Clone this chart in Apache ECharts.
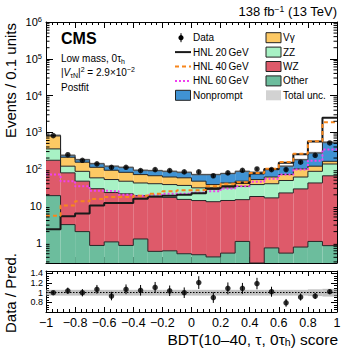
<!DOCTYPE html>
<html><head><meta charset="utf-8">
<script src="https://cdn.jsdelivr.net/npm/echarts@6/dist/echarts.min.js"></script>
<style>html,body{margin:0;padding:0;background:#fff}#c{width:349px;height:352px}</style>
</head><body><div id="c"></div>
<script>
// ---------- data ----------
const binEdges = [-1,-0.9,-0.8,-0.7,-0.6,-0.5,-0.4,-0.3,-0.2,-0.1,0,0.1,0.2,0.3,0.4,0.5,0.6,0.7,0.8,0.9,1];
const other     = [19, 3.1, 2.0, 0.84, 1.05, 0.84, 1.26, 0.58, 0.6, 0.5, 0.47, 0.41, 0.52, 1.08, 0.2, 0.72, 0.52, 0.76, 1.08, 0.83];
const wz        = [155, 76, 45, 28.5, 22, 20.5, 17.7, 17, 16.4, 14.5, 13.5, 12.6, 13.5, 13.7, 17.8, 15.8, 22, 28.2, 41, 65];
const zz        = [181, 41, 40, 28.5, 29, 25.5, 23, 22.5, 21, 21, 17, 15, 17, 19.2, 20, 23.5, 26.5, 32, 45, 72];
const vgamma    = [445, 90, 67, 54, 41, 35, 29, 26, 23, 22, 16, 10, 11, 13, 14, 21, 22, 40, 33, 25];
const nonprompt = [30, 28, 27, 29, 27, 30, 22, 25, 26, 24, 24, 33, 34, 40, 30, 36, 49, 80, 156, 374];
const dataObs   = [815, 247, 174, 139, 112, 112, 91, 97, 91, 84, 84, 66, 79, 93, 101, 97, 97, 154, 237, 515];
const hnl20     = [2.3, 5.2, 6.2, 10.2, 12, 12, 15.7, 18, 19, 20, 22, 30, 34, 42, 76, 100, 150, 255, 560, 2500];
const hnl40     = [5.4, 10.2, 13.3, 15.5, 17.5, 17.5, 19, 21.5, 25, 26.5, 27, 34, 40, 44, 78, 102, 155, 260, 570, 1870];
const hnl60     = [71, 47, 34, 26, 25, 20, 19, 20, 21.5, 21.5, 23, 25, 29.5, 34, 45, 55, 71, 97, 170, 340];
const predUncRel = [0.06,0.06,0.06,0.06,0.06,0.06,0.06,0.06,0.06,0.06,0.06,0.06,0.06,0.06,0.06,0.06,0.06,0.06,0.07,0.08];
const ratioObs  = [1.00,1.04,1.00,1.07,0.93,1.07,1.05,1.11,1.04,1.00,1.21,0.90,1.09,1.09,1.19,1.02,0.79,0.91,0.93,1.02];
const legendLeft  = ['Data','HNL 20\u2009GeV','HNL 40\u2009GeV','HNL 60\u2009GeV','Nonprompt'];
const legendRight = ['V\u03b3','ZZ','WZ','Other','Total unc.'];

// ---------- styling ----------
const FONT = "'Liberation Sans', Arial, Helvetica, sans-serif";
const COL = {other:'#6cbd9d', wz:'#de5a6a', zz:'#a8f2c5', vg:'#fdc964', np:'#4093d4',
  h20:'#1a1a1a', h40:'#f7861c', h60:'#f040f0', unc:'rgba(110,110,110,0.5)', runc:'rgba(150,150,150,0.6)'};
const YMIN = 0.28, YMAX = 1e6;

const chart = echarts.init(document.getElementById('c'), null, {renderer:'svg', width:349, height:352});
const nBins = binEdges.length - 1;

const procs = [
  {name:'Other', vals:other, color:COL.other},
  {name:'WZ', vals:wz, color:COL.wz},
  {name:'ZZ', vals:zz, color:COL.zz},
  {name:'V\u03b3', vals:vgamma, color:COL.vg},
  {name:'Nonprompt', vals:nonprompt, color:COL.np}
];

function clampY(cs, y){ return Math.min(Math.max(y, cs.y), cs.y + cs.height); }

function fillRender(color){
  return function(params, api){
    const cs = params.coordSys;
    const a = api.coord([api.value(0), api.value(3)]);
    const b = api.coord([api.value(1), api.value(2)]);
    const yt = clampY(cs, a[1]), yb = clampY(cs, b[1]);
    return {type:'rect', shape:{x:a[0], y:yt, width:b[0]-a[0], height:yb-yt}, style:{fill:color}};
  };
}
function outlineRender(params, api){
  const cs = params.coordSys;
  const a = api.coord([api.value(0), api.value(3)]);
  const b = api.coord([api.value(1), api.value(3)]);
  const p = api.coord([api.value(0), api.value(4)]);
  const yt = clampY(cs, a[1]), yp = clampY(cs, p[1]);
  return {type:'polyline', shape:{points:[[a[0], yp],[a[0], yt],[b[0], yt]]},
    style:{stroke:'#262626', lineWidth:1, fill:null}};
}

let cum = new Array(nBins).fill(0);
const series = [];
procs.forEach((p) => {
  const lo = cum.slice();
  cum = cum.map((c,i) => c + p.vals[i]);
  const hi = cum.slice();
  const data = [];
  for (let i = 0; i < nBins; i++) {
    data.push([binEdges[i], binEdges[i+1], lo[i] > 0 ? lo[i] : 1e-3, hi[i], i > 0 ? hi[i-1] : hi[i]]);
  }
  series.push({type:'custom', name:p.name, xAxisIndex:0, yAxisIndex:0, silent:true, z:2,
    renderItem:fillRender(p.color), data, encode:{x:[0,1], y:[2,3]}});
  series.push({type:'custom', name:p.name + ' outline', xAxisIndex:0, yAxisIndex:0, silent:true, z:3,
    renderItem:outlineRender, data, encode:{x:[0,1], y:[3]}});
});
const totalPred = cum;

// total uncertainty band (main)
series.push({type:'custom', xAxisIndex:0, yAxisIndex:0, silent:true, z:4,
  data: totalPred.map((t,i) => [binEdges[i], binEdges[i+1], t*(1-predUncRel[i]), t*(1+predUncRel[i])]),
  encode:{x:[0,1], y:[2,3]}, renderItem: fillRender(COL.unc)});

// HNL signal lines
function stepData(vals){ return binEdges.map((e,i) => [e, vals[Math.min(i, nBins-1)]]); }
series.push({type:'line', xAxisIndex:0, yAxisIndex:0, step:'end', symbol:'none', silent:true, z:5,
  data:stepData(hnl60), lineStyle:{color:COL.h60, width:2, type:[2,2]}});
series.push({type:'line', xAxisIndex:0, yAxisIndex:0, step:'end', symbol:'none', silent:true, z:5,
  data:stepData(hnl20), lineStyle:{color:COL.h20, width:2}});
series.push({type:'line', xAxisIndex:0, yAxisIndex:0, step:'end', symbol:'none', silent:true, z:6,
  data:stepData(hnl40), lineStyle:{color:COL.h40, width:2, type:[4,3]}});

// data points with Poisson error bars
const centers = binEdges.slice(0,-1).map((e,i) => (e + binEdges[i+1]) / 2);
function errRender(params, api){
  const cs = params.coordSys;
  const a = api.coord([api.value(0), api.value(1)]);
  const b = api.coord([api.value(0), api.value(2)]);
  return {type:'line', shape:{x1:a[0], y1:clampY(cs,a[1]), x2:b[0], y2:clampY(cs,b[1])}, style:{stroke:'#000', lineWidth:1}};
}
series.push({type:'custom', xAxisIndex:0, yAxisIndex:0, silent:true, z:7, renderItem:errRender,
  data: dataObs.map((d,i) => [centers[i], d - Math.sqrt(d), d + Math.sqrt(d)]), encode:{x:0, y:[1,2]}});
series.push({type:'scatter', xAxisIndex:0, yAxisIndex:0, silent:true, z:8, symbolSize:5.5,
  itemStyle:{color:'#000'}, data: dataObs.map((d,i) => [centers[i], d])});

// log minor ticks (2..9 x 10^k) on both sides
const minorVals = [];
for (let k = -1; k <= 5; k++) for (let m = 2; m <= 9; m++) { const v = m * Math.pow(10,k); if (v > YMIN && v < YMAX) minorVals.push(v); }
series.push({type:'custom', xAxisIndex:0, yAxisIndex:0, silent:true, z:9, data: minorVals.map(v => [v]),
  encode:{y:0},
  renderItem:function(params, api){
    const l = api.coord([-1, api.value(0)]), r = api.coord([1, api.value(0)]);
    return {type:'group', children:[
      {type:'line', shape:{x1:l[0], y1:l[1], x2:l[0]+3.5, y2:l[1]}, style:{stroke:'#000', lineWidth:1}},
      {type:'line', shape:{x1:r[0], y1:r[1], x2:r[0]-3.5, y2:r[1]}, style:{stroke:'#000', lineWidth:1}}
    ]};
  }});

// ratio panel
series.push({type:'custom', xAxisIndex:2, yAxisIndex:2, silent:true, z:2,
  data: predUncRel.map((u,i) => [binEdges[i], binEdges[i+1], 1-u, 1+u]), encode:{x:[0,1], y:[2,3]},
  renderItem: fillRender(COL.runc),
  markLine:{silent:true, symbol:'none', label:{show:false}, lineStyle:{color:'#000', type:[1.5,1.5], width:1},
    data:[{yAxis:1}]}});
series.push({type:'custom', xAxisIndex:2, yAxisIndex:2, silent:true, z:7, renderItem:errRender,
  data: ratioObs.map((r,i) => [centers[i], r - r/Math.sqrt(dataObs[i]), r + r/Math.sqrt(dataObs[i])]), encode:{x:0, y:[1,2]}});
series.push({type:'scatter', xAxisIndex:2, yAxisIndex:2, silent:true, z:8, symbolSize:5.5,
  itemStyle:{color:'#000'}, data: ratioObs.map((r,i) => [centers[i], r])});

// ---------- axes ----------
function fmtX(v){ const r = Math.round(v*10)/10; if (Math.abs(r) < 1e-9) return '0'; return String(r).replace('-', '\u2212'); }
function xAx(grid, pos, labels){
  return {type:'value', gridIndex:grid, position:pos, min:-1, max:1, interval:0.2,
    axisLine:{show:true, onZero:false, lineStyle:{color:'#000', width:1}},
    axisTick:{show:true, inside:true, length:grid===0?6:5, lineStyle:{color:'#000', width:1}},
    minorTick:{show:true, splitNumber:5, length:3, lineStyle:{color:'#000', width:1}},
    splitLine:{show:false}, minorSplitLine:{show:false},
    axisLabel:{show:labels, margin:4, fontSize:12.5, color:'#000', fontFamily:FONT, formatter:fmtX}};
}
function fmtLog(v){
  const l = Math.log10(v), e = Math.round(l);
  if (Math.abs(l - e) > 1e-6) return '';
  if (e === 0) return '1';
  if (e === 1) return '10';
  return '10{s|' + e + '}';
}
function yLog(pos, labels){
  return {type:'log', logBase:10, gridIndex:0, position:pos, min:YMIN, max:YMAX,
    axisLine:{show:true, onZero:false, lineStyle:{color:'#000', width:1}},
    axisTick:{show:true, inside:true, length:7, lineStyle:{color:'#000', width:1}},
    splitLine:{show:false},
    axisLabel:{show:labels, showMinLabel:false, margin:4, color:'#000', fontSize:11, fontFamily:FONT, lineHeight:13,
      formatter:fmtLog, rich:{s:{fontSize:7.5, fontFamily:FONT, color:'#000', verticalAlign:'top', lineHeight:8}}}};
}
function fmtR(v){ const s = Math.round(v*100); if (s % 20 !== 0 || s < 80) return ''; return String(s/100); }
function yRatio(pos, labels){
  return {type:'value', gridIndex:1, position:pos, min:0.6, max:1.45, interval:0.2,
    axisLine:{show:true, onZero:false, lineStyle:{color:'#000', width:1}},
    axisTick:{show:true, inside:true, length:6, lineStyle:{color:'#000', width:1}},
    minorTick:{show:true, splitNumber:4, length:3, lineStyle:{color:'#000', width:1}},
    splitLine:{show:false}, minorSplitLine:{show:false},
    axisLabel:{show:labels, showMaxLabel:false, margin:3, color:'#000', fontSize:9, lineHeight:9, fontFamily:FONT, formatter:fmtR}};
}

// ---------- texts & legend ----------
const graphic = [];
function txt(x, y, text, opt){
  graphic.push(Object.assign({type:'text', x, y, silent:true, z:50,
    style:Object.assign({text, fill:'#000', font:'10px ' + FONT, align:'left', verticalAlign:'middle'}, opt || {})}));
}
txt(61, 38.5, 'CMS', {font:'bold 16px ' + FONT});
txt(61, 58.5, '{n|Low mass, 0\u03c4}{b|h}', {rich:{n:{fontSize:10, fontFamily:FONT, lineHeight:12}, b:{fontSize:7, fontFamily:FONT, verticalAlign:'bottom', lineHeight:8}}});
txt(61, 72, '{n||}{i|V}{b|\u03c4N}{n||}{s|2}{n| = 2.9\u00d710}{s|\u22122}', {rich:{
  n:{fontSize:10, fontFamily:FONT, lineHeight:13}, i:{fontSize:10, fontFamily:FONT, fontStyle:'italic', lineHeight:13},
  b:{fontSize:7, fontFamily:FONT, verticalAlign:'bottom', lineHeight:8}, s:{fontSize:7, fontFamily:FONT, verticalAlign:'top', lineHeight:8}}});
txt(61, 87.5, 'Postfit', {});
txt(337, 11.5, '{n|138 fb}{s|\u22121}{n| (13 TeV)}', {align:'right', rich:{
  n:{fontSize:13, fontFamily:FONT, lineHeight:15}, s:{fontSize:8.5, fontFamily:FONT, verticalAlign:'top', lineHeight:9}}});
// axis titles
graphic.push({type:'text', x:10, y:23, rotation:Math.PI/2, silent:true, z:50,
  style:{text:'Events / 0.1 units', font:'15px ' + FONT, fill:'#000', align:'right', verticalAlign:'middle'}});
graphic.push({type:'text', x:10, y:293, rotation:Math.PI/2, silent:true, z:50,
  style:{text:'Data / Pred.', font:'15px ' + FONT, fill:'#000', align:'center', verticalAlign:'middle'}});
txt(338, 339, '{n|BDT(10\u201340, \u03c4, 0\u03c4}{b|h}{n|) score}', {align:'right', rich:{
  n:{fontSize:15.5, fontFamily:FONT, lineHeight:17}, b:{fontSize:10.5, fontFamily:FONT, verticalAlign:'bottom', lineHeight:11}}});

// legend
const rowY0 = 37.7, dRow = 14.4;
legendLeft.forEach((t,i) => txt(193, rowY0 + i*dRow, t, {font:'10px ' + FONT}));
legendRight.forEach((t,i) => txt(283, rowY0 + i*dRow, t, {font:'10px ' + FONT}));
graphic.push({type:'line', silent:true, z:50, shape:{x1:181, y1:rowY0-4.5, x2:181, y2:rowY0+4.5}, style:{stroke:'#000', lineWidth:1}});
graphic.push({type:'circle', silent:true, z:51, shape:{cx:181, cy:rowY0, r:2.6}, style:{fill:'#000'}});
[[COL.h20, null],[COL.h40,[4,3]],[COL.h60,[2,2]]].forEach((s,k) => {
  graphic.push({type:'line', silent:true, z:50, shape:{x1:175, y1:rowY0+(k+1)*dRow, x2:191, y2:rowY0+(k+1)*dRow},
    style:{stroke:s[0], lineWidth:2, lineDash:s[1]}});
});
function box(x, y, fill, stroke){
  graphic.push({type:'rect', silent:true, z:50, shape:{x, y:y-5, width:15, height:10}, style:{fill, stroke, lineWidth:stroke?1:0}});
}
box(175.5, rowY0 + 4*dRow, COL.np, '#222');
box(266, rowY0, COL.vg, '#222');
box(266, rowY0 + dRow, COL.zz, '#222');
box(266, rowY0 + 2*dRow, COL.wz, '#222');
box(266, rowY0 + 3*dRow, COL.other, '#222');
box(266, rowY0 + 4*dRow, '#d2d2d2', null);

chart.setOption({
  animation:false,
  backgroundColor:'#fff',
  grid:[{left:46, top:22, width:291, height:241}, {left:46, top:271, width:291, height:41}],
  xAxis:[xAx(0,'bottom',false), xAx(0,'top',false), xAx(1,'bottom',true), xAx(1,'top',false)],
  yAxis:[yLog('left',true), yLog('right',false), yRatio('left',true), yRatio('right',false)],
  series,
  graphic
});
</script></body></html>
